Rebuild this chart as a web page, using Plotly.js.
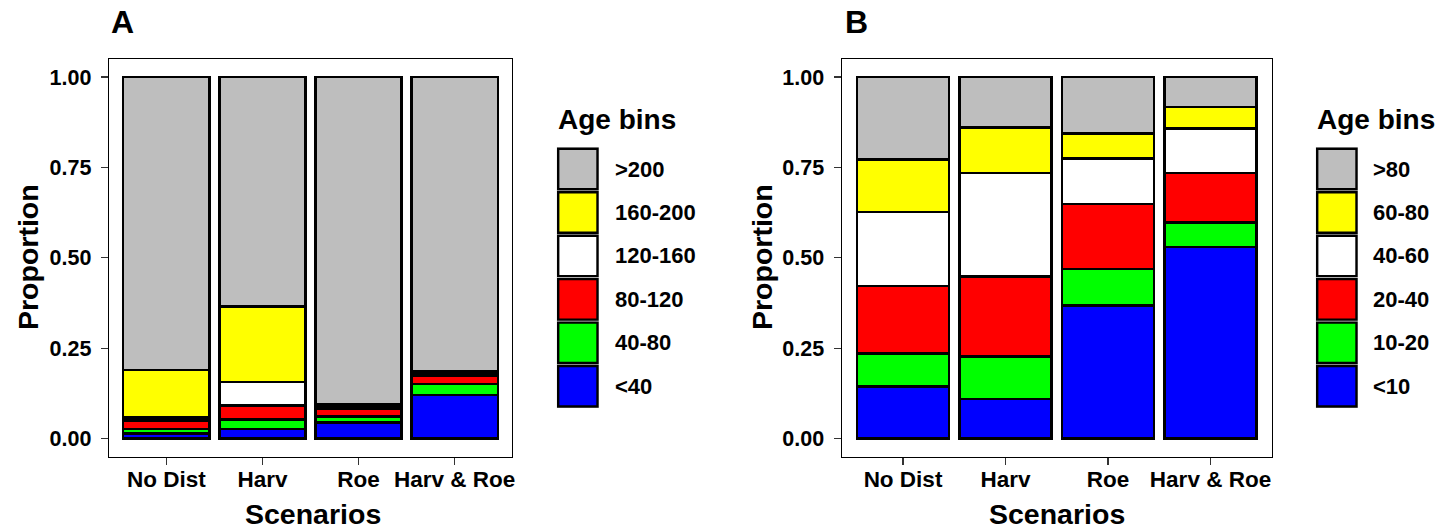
<!DOCTYPE html>
<html>
<head>
<meta charset="utf-8">
<script src="https://cdn.plot.ly/plotly-3.0.1.min.js"></script>
<style>html,body{margin:0;padding:0;background:#fff;}#chart{width:1451px;height:529px;}</style>
</head>
<body>
<div id="chart"></div>
<script>
// ---- data ----
const scenarios = ["No Dist", "Harv", "Roe", "Harv & Roe"];
const binsA = ["<40", "40-80", "80-120", "120-160", "160-200", ">200"];
const binsB = ["<10", "10-20", "20-40", "40-60", "60-80", ">80"];
const binColors = ["#0000FF", "#00FF00", "#FF0000", "#FFFFFF", "#FFFF00", "#BEBEBE"];

// Panel A (proportions per age bin, per scenario)
const A_lt40    = [0.015, 0.027, 0.045, 0.121];
const A_40_80   = [0.012, 0.025, 0.016, 0.030];
const A_80_120  = [0.023, 0.039, 0.022, 0.023];
const A_120_160 = [0.009, 0.066, 0.006, 0.008];
const A_160_200 = [0.131, 0.209, 0.006, 0.003];
const A_gt200   = [0.810, 0.634, 0.905, 0.815];

// Panel B
const B_lt10   = [0.145, 0.110, 0.368, 0.530];
const B_10_20  = [0.090, 0.117, 0.101, 0.068];
const B_20_40  = [0.187, 0.221, 0.180, 0.137];
const B_40_60  = [0.205, 0.287, 0.126, 0.123];
const B_60_80  = [0.145, 0.126, 0.069, 0.059];
const B_gt80   = [0.228, 0.139, 0.156, 0.083];

const seriesA = [A_lt40, A_40_80, A_80_120, A_120_160, A_160_200, A_gt200];
const seriesB = [B_lt10, B_10_20, B_20_40, B_40_60, B_60_80, B_gt80];

// ---- layout helpers ----
const W = 1451, H = 529;
const px = x => x / W;
const py = y => 1 - y / H;
const FONT = "Liberation Sans, Arial, Helvetica, sans-serif";

const traces = [];
seriesA.forEach((vals, i) => traces.push({
  type: "bar", x: scenarios, y: vals, name: binsA[i], xaxis: "x", yaxis: "y",
  width: 0.9, showlegend: false,
  marker: {color: binColors[i], line: {color: "#000", width: 2.7}}
}));
seriesB.forEach((vals, i) => traces.push({
  type: "bar", x: scenarios, y: vals, name: binsB[i], xaxis: "x2", yaxis: "y2",
  width: 0.9, showlegend: false,
  marker: {color: binColors[i], line: {color: "#000", width: 2.7}}
}));

const xTickFont = {family: FONT, size: 22.5, color: "#000", weight: "bold"};
const yTickFont = {family: FONT, size: 21.5, color: "#000", weight: "bold"};
function xax(domain, anchor) {
  return {domain: domain, anchor: anchor, type: "category", range: [-0.6, 3.6],
    showline: true, mirror: true, linecolor: "#000", linewidth: 1,
    ticks: "outside", ticklen: 7, tickcolor: "#333", tickwidth: 1.2,
    showgrid: false, zeroline: false, tickfont: xTickFont, ticklabelstandoff: -5, fixedrange: true};
}
function yax(anchor) {
  return {domain: [py(456.7), py(59)], anchor: anchor, range: [-0.05, 1.05],
    tickvals: [0, 0.25, 0.5, 0.75, 1], tickformat: ".2f",
    showline: true, mirror: true, linecolor: "#000", linewidth: 1,
    ticks: "outside", ticklen: 7, tickcolor: "#333", tickwidth: 1.2,
    showgrid: false, zeroline: false, tickfont: yTickFont, ticklabelstandoff: 5, fixedrange: true};
}

const annotations = [];
const shapes = [];
function txt(x, y, text, size, opts) {
  annotations.push(Object.assign({
    xref: "paper", yref: "paper", x: px(x), y: py(y), text: text, showarrow: false,
    xanchor: "center", yanchor: "middle",
    font: {family: FONT, size: size, color: "#000", weight: "bold"}
  }, opts || {}));
}
// panel tags
txt(109, 22, "A", 32, {xanchor: "left"});
txt(843, 22, "B", 32, {xanchor: "left"});
// axis titles
txt(28, 257, "Proportion", 28.5, {textangle: -90});
txt(762, 257, "Proportion", 28.5, {textangle: -90});
txt(313, 514, "Scenarios", 28.5);
txt(1057, 514, "Scenarios", 28.5);

// legends (drawn top to bottom: last bin first)
function legend(x0, labelX, bins) {
  txt(x0 - 1, 119, "Age bins", 28, {xanchor: "left"});
  const top = 147.3, h = 43.45;
  for (let k = 0; k < bins.length; k++) {
    const idx = bins.length - 1 - k;
    const y0 = top + k * h, y1 = y0 + h;
    shapes.push({type: "rect", xref: "paper", yref: "paper",
      x0: px(x0), x1: px(x0 + 42.3), y0: py(y0), y1: py(y1),
      fillcolor: "#BEBEBE", line: {width: 0}, layer: "above", opacity: 0.5});
    shapes.push({type: "rect", xref: "paper", yref: "paper",
      x0: px(x0 + 1.5), x1: px(x0 + 40.8), y0: py(y0 + 1.5), y1: py(y1 - 1.5),
      fillcolor: binColors[idx], line: {color: "#000", width: 2.4}, layer: "above"});
    txt(labelX, (y0 + y1) / 2, bins[idx], 22, {xanchor: "left"});
  }
}
legend(556.7, 613, binsA);
legend(1315.7, 1371, binsB);

const layout = {
  width: W, height: H, margin: {l: 0, r: 0, t: 0, b: 0},
  paper_bgcolor: "#fff", plot_bgcolor: "#fff",
  barmode: "stack", bargap: 0.1,
  showlegend: false,
  font: {family: FONT, color: "#000"},
  xaxis: xax([px(108.7), px(512.3)], "y"),
  yaxis: yax("x"),
  xaxis2: xax([px(841.5), px(1272)], "y2"),
  yaxis2: yax("x2"),
  annotations: annotations,
  shapes: shapes
};

Plotly.newPlot("chart", traces, layout, {displayModeBar: false, staticPlot: true});
</script>
</body>
</html>
